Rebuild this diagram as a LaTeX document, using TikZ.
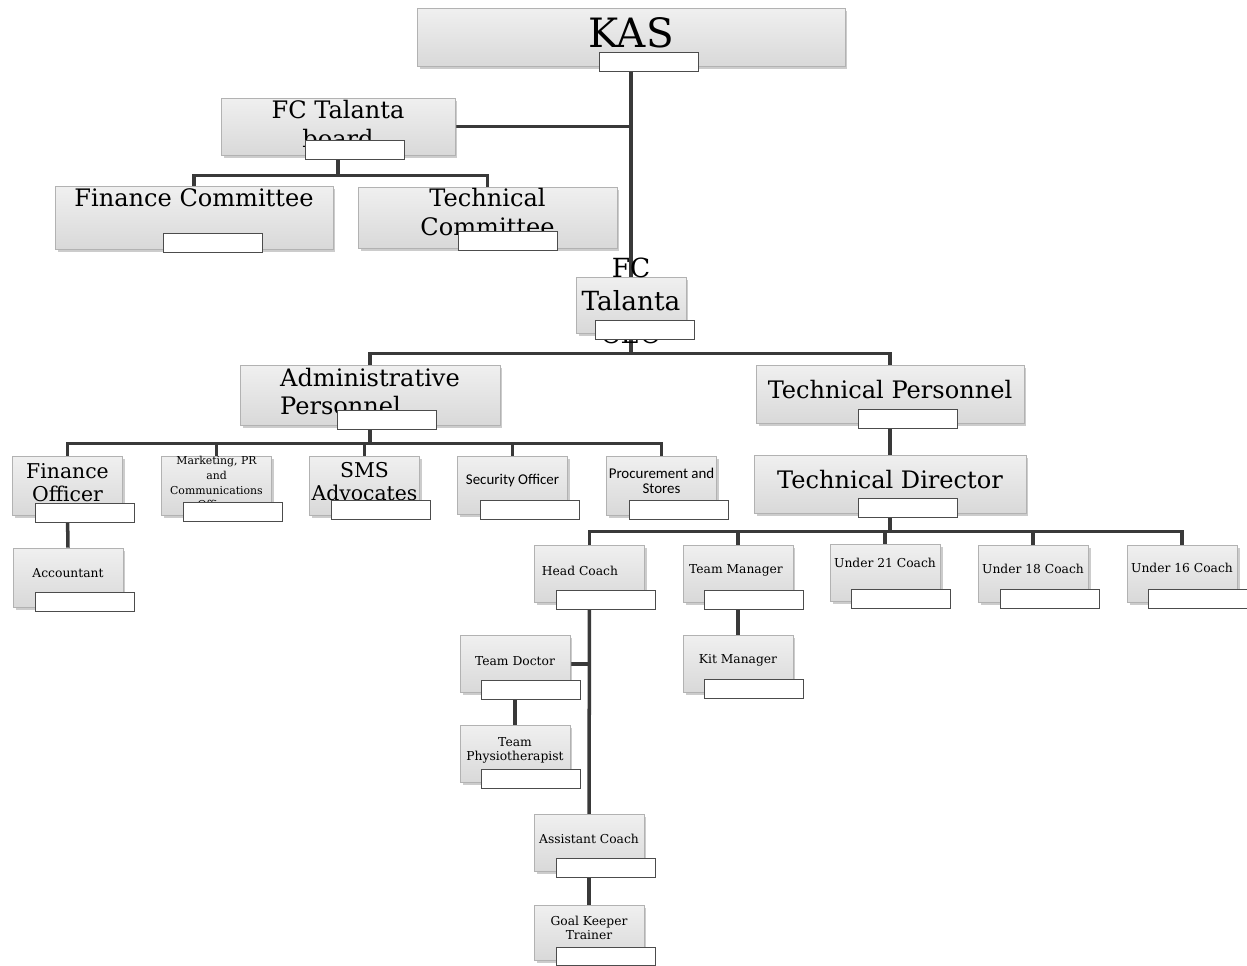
\documentclass[tikz,border=0pt]{standalone}
\usepackage{fontspec}
\setmainfont{DejaVu Serif}
\newfontfamily\calfont{Carlito}
\usetikzlibrary{shadows,backgrounds}

\begin{document}
\begin{tikzpicture}[x=0.02cm, y=-0.02cm,
	box/.style={draw=gray!60, line width=0.4pt, top color=gray!12, bottom color=gray!30, drop shadow={shadow xshift=0.05cm, shadow yshift=-0.05cm, opacity=0.4}, inner sep=0pt},
	unit/.style={box, minimum width=2.2cm, minimum height=1.14cm},
	tag/.style={draw=gray!60!black, fill=white, line width=0.5pt, minimum width=1.98cm, minimum height=0.38cm, inner sep=0pt},
	link/.style={draw=gray!45!black, line width=2pt},
	kastext/.style={font=\fontsize{23}{26}\selectfont},
	ceotext/.style={font=\fontsize{15}{19}\selectfont, align=center},
	bigtext/.style={font=\fontsize{13.7}{16}\selectfont, align=center},
	midtext/.style={font=\fontsize{11.6}{13.5}\selectfont, align=center},
	smalltext/.style={font=\fontsize{7}{8}\selectfont, align=center},
	tinytext/.style={font=\fontsize{6.2}{8.5}\selectfont, align=center},
	sanstext/.style={font=\calfont\fontsize{8.5}{8.5}\selectfont, align=center}]
		\useasboundingbox (0,0) rectangle (1247,965);
		\node[box, minimum width=8.56cm, minimum height=1.16cm, label={[kastext,yshift=0.08cm]center:KAS}] (kas)at(631,37) {};
		\node[tag] (kastag)at(648.5,61.5) {};
		\node[box, minimum width=4.68cm, minimum height=1.14cm, label={[bigtext,yshift=0.05cm]center:{FC Talanta\\board}}] (board)at(338,126.5) {};
		\node[tag] (boardtag)at(354.5,149.5) {};
		\node[box, minimum width=5.56cm, minimum height=1.26cm, label={[bigtext,yshift=0.39cm]center:Finance Committee}] (fincom)at(194,217.5) {};
		\node[tag] (fincomtag)at(212.5,242.5) {};
		\node[box, minimum width=5.18cm, minimum height=1.22cm, label={[bigtext,yshift=0.11cm]center:{Technical\\Committee}}] (techcom)at(487.5,217.5) {};
		\node[tag] (techcomtag)at(507.5,241) {};
		\node[box, minimum width=2.2cm, minimum height=1.12cm, label={[ceotext,yshift=0.08cm]center:{FC\\Talanta\\CEO}}] (ceo)at(631,305) {};
		\node[tag] (ceotag)at(644.5,330) {};
		\node[box, minimum width=5.2cm, minimum height=1.2cm, label={[bigtext,align=left,yshift=0.07cm]center:{Administrative\\Personnel}}] (admin)at(370,395) {};
		\node[tag] (admintag)at(386.5,420) {};
		\node[box, minimum width=5.36cm, minimum height=1.16cm, label={[bigtext,yshift=0.08cm]center:Technical Personnel}] (techpers)at(890,394) {};
		\node[tag] (techperstag)at(907.5,418.5) {};
		\node[box, minimum width=5.44cm, minimum height=1.16cm, label={[bigtext,yshift=0.08cm]center:Technical Director}] (techdir)at(890,484) {};
		\node[tag] (techdirtag)at(907.5,508) {};
		\node[unit, minimum height=1.18cm, label={[midtext,yshift=0.06cm]center:{Finance\\Officer}}] (finoff)at(67.5,485.5) {};
		\node[tag] (finofftag)at(85,512.5) {};
		\node[unit, minimum height=1.18cm, label={[tinytext,yshift=0.06cm]center:{Marketing, PR\\and\\Communications\\Officer}}] (mkt)at(216.5,485.5) {};
		\node[tag] (mkttag)at(233,511.5) {};
		\node[unit, minimum height=1.18cm, label={[midtext,yshift=0.08cm]center:{SMS\\Advocates}}] (sms)at(364.5,485.5) {};
		\node[tag] (smstag)at(381,510) {};
		\node[unit, minimum height=1.16cm, label={[sanstext,yshift=0.08cm]center:Security Officer}] (sec)at(512.5,485) {};
		\node[tag] (sectag)at(529.5,510) {};
		\node[unit, minimum height=1.18cm, label={[sanstext,yshift=0.1cm]center:{Procurement and\\Stores}}] (proc)at(661.5,485.5) {};
		\node[tag] (proctag)at(678.5,509.5) {};
		\node[unit, minimum height=1.18cm, label={[smalltext,yshift=0.09cm]center:Accountant}] (acct)at(68,577.5) {};
		\node[tag] (accttag)at(85,601.5) {};
		\node[unit, label={[smalltext,xshift=-0.19cm,yshift=0.05cm]center:Head Coach}] (head)at(589.5,573.5) {};
		\node[tag] (headtag)at(606,599.5) {};
		\node[unit, label={[smalltext,xshift=-0.04cm,yshift=0.07cm]center:Team Manager}] (tm)at(738,573.5) {};
		\node[tag] (tmtag)at(754,599.5) {};
		\node[unit, label={[smalltext,yshift=0.2cm]center:Under 21 Coach}] (u21)at(885,573) {};
		\node[tag] (u21tag)at(901,598.5) {};
		\node[unit, label={[smalltext,yshift=0.09cm]center:Under 18 Coach}] (u18)at(1033,573.5) {};
		\node[tag] (u18tag)at(1049.5,598.5) {};
		\node[unit, label={[smalltext,yshift=0.11cm]center:Under 16 Coach}] (u16)at(1182,573.5) {};
		\node[tag] (u16tag)at(1197.5,598.5) {};
		\node[unit, label={[smalltext,yshift=0.07cm]center:Kit Manager}] (kit)at(738,663.5) {};
		\node[tag] (kittag)at(754,688.5) {};
		\node[unit, label={[smalltext,yshift=0.06cm]center:Team Doctor}] (doc)at(515,664) {};
		\node[tag] (doctag)at(531,689.5) {};
		\node[unit, label={[smalltext,yshift=0.08cm]center:{Team\\Physiotherapist}}] (physio)at(515,754) {};
		\node[tag] (physiotag)at(531,778.5) {};
		\node[unit, label={[smalltext,yshift=0.08cm]center:Assistant Coach}] (asst)at(589,843) {};
		\node[tag] (assttag)at(606,867.5) {};
		\node[unit, minimum height=1.1cm, label={[smalltext,yshift=0.09cm]center:{Goal Keeper\\Trainer}}] (gk)at(589,932.5) {};
		\node[tag, minimum height=0.36cm] (gktag)at(606,956) {};
		\begin{pgfonlayer}{background}
		\draw[link] (kas.south) -- (ceo.north);
		\draw[link] (board.east) -- (board.east -| kas.south);
		\draw[link] (board.south) -- ++(0,20) -| (fincom.north);
		\draw[link] (board.south) -- ++(0,20) -| (techcom.north);
		\draw[link] (ceo.south) -- ++(0,20) -| (admin.north);
		\draw[link] (ceo.south) -- ++(0,20) -| (techpers.north);
		\draw[link] (admin.south) -- ++(0,18) -| (finoff.north);
		\draw[link] (admin.south) -- ++(0,18) -| (mkt.north);
		\draw[link] (admin.south) -- ++(0,18) -| (sms.north);
		\draw[link] (admin.south) -- ++(0,18) -| (sec.north);
		\draw[link] (admin.south) -- ++(0,18) -| (proc.north);
		\draw[link] (techpers.south) -- (techdir.north);
		\draw[link] (techdir.south) -- ++(0,18) -| (head.north);
		\draw[link] (techdir.south) -- ++(0,18) -| (tm.north);
		\draw[link] (techdir.south) -- ++(0,18) -| (u21.north);
		\draw[link] (techdir.south) -- ++(0,18) -| (u18.north);
		\draw[link] (techdir.south) -- ++(0,18) -| (u16.north);
		\draw[link] (finoff.south) -- (acct.north);
		\draw[link] (tm.south) -- (kit.north);
		\draw[link] (head.south) -- (asst.north);
		\draw[link] (doc.east) -- (doc.east -| head.south);
		\draw[link] (doc.south) -- (physio.north);
		\draw[link] (asst.south) -- (gk.north);
		\end{pgfonlayer}
\end{tikzpicture}
\end{document}
